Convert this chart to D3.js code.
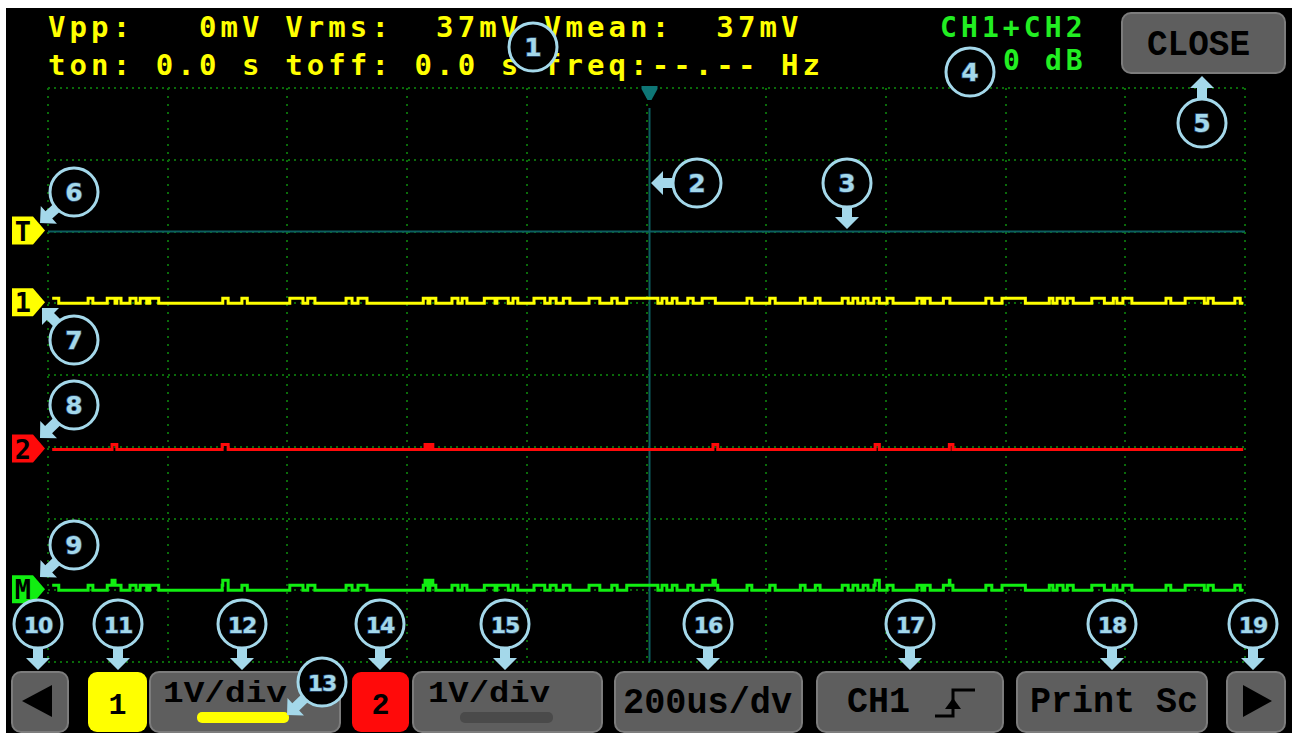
<!DOCTYPE html>
<html>
<head>
<meta charset="utf-8">
<script src="https://cdn.jsdelivr.net/npm/d3@7"></script>
<style>
  body { margin: 0; background: #fff; }
  text { white-space: pre; }
</style>
</head>
<body>
<svg id="scope" width="1292" height="733"></svg>
<script>
// time base: 200us/div over 10 divisions, edges in us
const timeSpan = [0, 2000];
const traceSpan = [7, 1997];
const timeTicks = d3.range(0, 2001, 200);
const voltTicks = d3.range(-4, 5, 1);

// pulse start / end times for each channel (us)
const ch1Pulses = [[7,18],[67,75],[99,112],[115,122],[137,147],[154,165],[170,185],[292,301],[324,333],
  [404,426],[434,446],[498,508],[518,533],[627,635],[638,648],[675,685],[692,700],[729,747],[750,769],
  [777,785],[812,830],[839,849],[861,872],[904,922],[942,951],[967,1019],[1026,1034],[1043,1051],
  [1069,1078],[1093,1115],[1168,1176],[1206,1215],[1257,1265],[1282,1290],[1327,1337],[1345,1353],
  [1362,1370],[1380,1389],[1402,1412],[1452,1460],[1465,1474],[1496,1507],[1567,1577],[1594,1633],
  [1673,1679],[1686,1696],[1703,1713],[1744,1765],[1780,1786],[1796,1811],[1868,1876],[1900,1932],
  [1938,1947],[1983,1992]];
const ch2Pulses = [[107,115],[291,301],[630,635],[638,643],[1111,1119],[1382,1389],[1506,1512]];

// channel offsets and levels in volts (1V/div)
const ch1Offset = 1.0, ch2Offset = -1.04, mathOffset = -3.0, trigLevel = 2.0;
const ch1Amp = 0.07, ch2Amp = 0.07;

// readouts
const row1 = "Vpp:   0mV Vrms:  37mV Vmean:  37mV";
const row2 = "ton: 0.0 s toff: 0.0 s freq:--.-- Hz";
const mathLabel = "CH1+CH2";
const gainLabel = "0 dB";
const buttonLabels = ["", "1", "1V/div", "2", "1V/div", "200us/dv", "CH1", "Print Sc", ""];

const svg = d3.select("#scope");

let x = d3.scaleLinear().domain(timeSpan).range([48, 1245]);
let y = d3.scaleLinear().domain([4, -4]).range([88, 662]);

// screen
svg.append("rect").attr("x", 6).attr("y", 8).attr("width", 1286).attr("height", 725).attr("fill", "#000");

// dotted grid
let grid = svg.append("g").attr("stroke", "#0a6a0a").attr("stroke-width", 2);
grid.selectAll(".v").data(timeTicks).enter().append("line")
  .attr("x1", d => Math.round(x(d))).attr("x2", d => Math.round(x(d)))
  .attr("y1", y(4)).attr("y2", y(-4))
  .attr("stroke-dasharray", "2,6");
grid.selectAll(".h").data(voltTicks).enter().append("line")
  .attr("y1", d => Math.round(y(d))).attr("y2", d => Math.round(y(d)))
  .attr("x1", x(0)).attr("x2", x(2000))
  .attr("stroke-dasharray", "2,4");

// trigger time + level lines
let teal = "#0c5e60";
svg.append("line").attr("x1", x(1000)+3).attr("x2", x(1000)+3).attr("y1", 108).attr("y2", y(-4))
  .attr("stroke", teal).attr("stroke-width", 2);
svg.append("line").attr("x1", x(0)).attr("x2", x(2000)).attr("y1", y(trigLevel)).attr("y2", y(trigLevel))
  .attr("stroke", teal).attr("stroke-width", 2);
let tx = x(1000) + 3;
svg.append("path")
  .attr("d", `M${tx-8},86 H${tx+8} V89 L${tx+2},100 H${tx-2} L${tx-8},89 Z`)
  .attr("fill", "#0e7676");

// build stepped traces from pulse lists
function levelAt(pulses, amp, t) {
  return pulses.some(p => t >= p[0] && t < p[1]) ? amp : 0;
}
function stepPoints(list) {
  let edges = [traceSpan[0], traceSpan[1]];
  list.forEach(s => s.pulses.forEach(p => edges.push(p[0], p[1])));
  edges = Array.from(new Set(edges)).filter(t => t >= traceSpan[0] && t <= traceSpan[1]).sort((a, b) => a - b);
  return edges.map(t => ({ t: t, v: d3.sum(list, s => levelAt(s.pulses, s.amp, t)) }));
}

const ch1 = { pulses: ch1Pulses, amp: ch1Amp };
const ch2 = { pulses: ch2Pulses, amp: ch2Amp };

const traces = [
  { pts: stepPoints([ch1]), off: ch1Offset, color: "#ffff00" },
  { pts: stepPoints([ch2]), off: ch2Offset, color: "#ff0a0a" },
  { pts: stepPoints([ch1, ch2]), off: mathOffset, color: "#11ee11" }
];

traces.forEach(tr => {
  let line = d3.line().curve(d3.curveStepAfter)
    .x(d => x(d.t)).y(d => y(tr.off + d.v));
  svg.append("path").datum(tr.pts).attr("d", line)
    .attr("fill", "none").attr("stroke", tr.color).attr("stroke-width", 3);
});

// left side markers
const markers = [
  { lab: "T", v: trigLevel, fill: "#ffff00" },
  { lab: "1", v: ch1Offset, fill: "#ffff00" },
  { lab: "2", v: ch2Offset, fill: "#ff0a0a" },
  { lab: "M", v: mathOffset, fill: "#11ee11" }
];
markers.forEach(m => {
  let cy = y(m.v) - 1;
  svg.append("path").attr("d", `M12,${cy-14} H33 L45,${cy} L33,${cy+14} H12 Z`).attr("fill", m.fill);
  svg.append("text").attr("x", 23).attr("y", cy + 10).attr("text-anchor", "middle")
    .attr("font-family", "DejaVu Sans Mono").attr("font-weight", "bold").attr("font-size", 27)
    .attr("fill", "#000").text(m.lab);
});

// readout text
let hdr = svg.append("g").attr("font-family", "DejaVu Sans Mono").attr("font-weight", "bold")
  .attr("font-size", 29).attr("letter-spacing", 4.1);
hdr.append("text").attr("x", 48).attr("y", 37).attr("fill", "#ffff00").text(row1);
hdr.append("text").attr("x", 48).attr("y", 75).attr("fill", "#ffff00").text(row2);
hdr.append("text").attr("x", 940).attr("y", 37).attr("fill", "#22ee22").attr("font-size", 28)
  .attr("letter-spacing", 4.1).text(mathLabel);
hdr.append("text").attr("x", 1003).attr("y", 70).attr("fill", "#22ee22").attr("font-size", 28)
  .attr("letter-spacing", 4.1).text(gainLabel);

// buttons
function button(bx, by, w, h, fill) {
  svg.append("rect").attr("x", bx).attr("y", by).attr("width", w).attr("height", h)
    .attr("rx", 9).attr("fill", fill).attr("stroke", fill === "#5e5e5e" ? "#7c7c7c" : "none")
    .attr("stroke-width", 2);
}
button(1122, 13, 163, 60, "#5e5e5e");
svg.append("text").attr("x", 1147).attr("y", 55).attr("font-family", "Liberation Mono").attr("font-weight", "bold")
  .attr("font-size", 36).attr("textLength", 103).attr("lengthAdjust", "spacingAndGlyphs").attr("fill", "#000").text("CLOSE");

const btnX = [12, 88, 150, 352, 413, 615, 817, 1017, 1227];
const btnW = [56, 59, 190, 57, 189, 187, 186, 190, 58];
const btnFill = ["#5e5e5e", "#ffff00", "#5e5e5e", "#ff0a0a", "#5e5e5e", "#5e5e5e", "#5e5e5e", "#5e5e5e", "#5e5e5e"];
btnX.forEach((bx, i) => button(bx, 672, btnW[i], 60, btnFill[i]));

function label(txt, lx, ly, size, len) {
  let t = svg.append("text").attr("x", lx).attr("y", ly).attr("font-family", "Liberation Mono")
    .attr("font-weight", "bold").attr("font-size", size).attr("fill", "#000").text(txt);
  if (len) t.attr("textLength", len).attr("lengthAdjust", "spacingAndGlyphs");
}
label(buttonLabels[1], 117.5 - 9, 714, 30);
label(buttonLabels[2], 163, 702, 30, 124);
label(buttonLabels[3], 380.5 - 9, 714, 30);
label(buttonLabels[4], 428, 702, 30, 122);
label(buttonLabels[5], 623, 713, 36, 169);
label(buttonLabels[6], 847, 712, 36, 63);
label(buttonLabels[7], 1030, 712, 36, 168);

// volts/div bars
svg.append("rect").attr("x", 197).attr("y", 712).attr("width", 92).attr("height", 11).attr("rx", 5).attr("fill", "#ffff00");
svg.append("rect").attr("x", 460).attr("y", 712).attr("width", 93).attr("height", 11).attr("rx", 5).attr("fill", "#4a4a4a");

// arrows in nav buttons
svg.append("path").attr("d", "M22,701 L52,685 V717 Z").attr("fill", "#000");
svg.append("path").attr("d", "M1272,701 L1243,685 V717 Z").attr("fill", "#000");

// rising-edge trigger symbol
svg.append("path").attr("d", "M935,716 H953 V690 H975").attr("fill", "none").attr("stroke", "#000").attr("stroke-width", 3);
svg.append("path").attr("d", "M945,709 L953,698 L961,709 Z").attr("fill", "#000");

// numbered callouts (layout only)
const callouts = [
  [1, 533, 47], [2, 697, 183, 651, 183], [3, 847, 183, 847, 229], [4, 970, 72],
  [5, 1202, 123, 1202, 76], [6, 74, 192, 40, 223], [7, 74, 340, 42, 308],
  [8, 74, 405, 40, 438], [9, 74, 545, 40, 577], [10, 38, 624, 38, 670],
  [11, 118, 624, 118, 670], [12, 242, 624, 242, 670], [13, 322, 682, 287, 715],
  [14, 380, 624, 380, 670], [15, 505, 624, 505, 670], [16, 708, 624, 708, 670],
  [17, 910, 624, 910, 670], [18, 1112, 624, 1112, 670], [19, 1253, 624, 1253, 670]
];
const blue = "#a4d8ea";
callouts.forEach(c => {
  let [n, cx, cy, ax, ay] = c;
  if (ax !== undefined) {
    let ang = Math.atan2(ay - cy, ax - cx) * 180 / Math.PI;
    let len = Math.hypot(ax - cx, ay - cy);
    svg.append("path")
      .attr("d", `M0,0 L-12,-12 L-12,-5 L${-len + 20},-5 L${-len + 20},5 L-12,5 L-12,12 Z`)
      .attr("transform", `translate(${ax},${ay}) rotate(${ang})`)
      .attr("fill", blue);
  }
  svg.append("circle").attr("cx", cx).attr("cy", cy).attr("r", 24)
    .attr("fill", "#000").attr("stroke", blue).attr("stroke-width", 3);
  svg.append("text").attr("x", cx).attr("y", cy + 9).attr("text-anchor", "middle")
    .attr("font-family", "DejaVu Sans").attr("font-weight", "bold").attr("font-size", n > 9 ? 22 : 25)
    .attr("letter-spacing", n > 9 ? -1 : 0)
    .attr("fill", blue).attr("stroke", "#2a4a6e").attr("stroke-width", 1.5).attr("paint-order", "stroke")
    .text(n);
});
</script>
</body>
</html>
